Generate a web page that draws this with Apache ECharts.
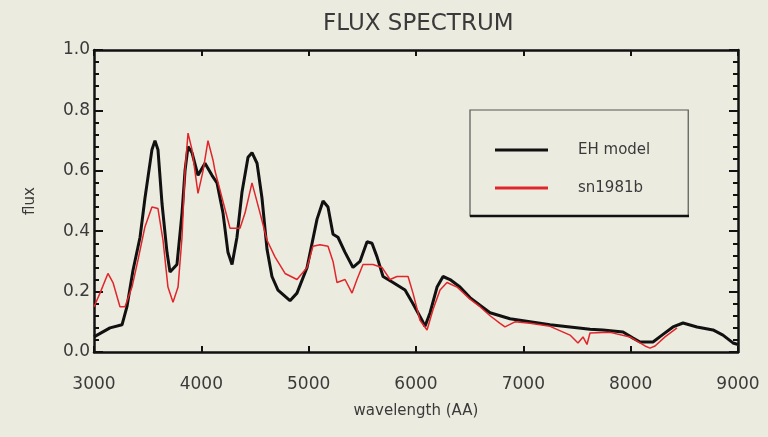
<!DOCTYPE html>
<html>
<head>
<meta charset="utf-8">
<script src="https://cdn.jsdelivr.net/npm/echarts@6/dist/echarts.min.js"></script>
<style>
html,body{margin:0;padding:0;background:#ecebe0;}
#chart{width:768px;height:437px;}
</style>
</head>
<body>
<div id="chart"></div>
<script>
var titleText = "FLUX SPECTRUM";
var xName = "wavelength (AA)";
var yName = "flux";
var seriesNames = ["EH model", "sn1981b"];

var ehWave = [3000,3149,3261,3307,3363,3429,3475,3540,3568,3596,3634,3680,3708,3773,3820,3848,3876,3913,3969,4034,4099,4146,4202,4248,4286,4332,4379,4435,4472,4519,4565,4612,4658,4714,4826,4891,4985,5078,5134,5180,5227,5273,5339,5413,5478,5544,5590,5637,5693,5786,5898,5972,6056,6084,6131,6196,6252,6317,6410,6503,6596,6690,6876,7062,7249,7435,7621,7742,7929,8022,8087,8208,8292,8394,8488,8618,8767,8860,8953,9000];
var ehFlux = [0.05,0.08,0.09,0.15,0.27,0.38,0.51,0.67,0.70,0.67,0.49,0.33,0.265,0.29,0.46,0.60,0.68,0.66,0.585,0.625,0.585,0.56,0.46,0.33,0.29,0.38,0.53,0.645,0.66,0.625,0.51,0.34,0.25,0.205,0.17,0.195,0.28,0.44,0.50,0.48,0.39,0.38,0.33,0.28,0.30,0.365,0.36,0.315,0.25,0.23,0.205,0.16,0.105,0.085,0.13,0.215,0.25,0.24,0.215,0.18,0.155,0.13,0.11,0.10,0.09,0.083,0.075,0.073,0.066,0.046,0.033,0.033,0.056,0.083,0.096,0.083,0.073,0.056,0.03,0.025];

var snWave = [3000,3056,3130,3177,3242,3289,3354,3410,3475,3540,3596,3643,3689,3736,3783,3820,3848,3876,3913,3969,4016,4062,4109,4127,4193,4267,4360,4407,4472,4547,4612,4686,4780,4891,4985,5040,5106,5180,5227,5264,5339,5404,5450,5506,5599,5683,5758,5823,5926,5972,6037,6103,6158,6224,6289,6382,6503,6596,6690,6783,6829,6922,7062,7249,7435,7509,7556,7593,7621,7808,7994,8134,8180,8227,8320,8432];
var snFlux = [0.15,0.195,0.26,0.23,0.15,0.15,0.215,0.305,0.415,0.48,0.475,0.37,0.215,0.165,0.215,0.38,0.60,0.725,0.67,0.525,0.60,0.70,0.635,0.60,0.51,0.41,0.41,0.46,0.56,0.46,0.37,0.315,0.26,0.24,0.28,0.35,0.355,0.35,0.30,0.23,0.24,0.195,0.24,0.29,0.29,0.28,0.24,0.25,0.25,0.195,0.105,0.073,0.14,0.205,0.23,0.215,0.175,0.15,0.12,0.095,0.083,0.10,0.095,0.085,0.056,0.03,0.05,0.025,0.063,0.065,0.05,0.02,0.013,0.02,0.05,0.08];

function zip(a, b) { return a.map(function (v, i) { return [v, b[i]]; }); }

var chart = echarts.init(document.getElementById('chart'), null, {renderer: 'canvas'});
var txt = '#3a3a3a';
var font = 'DejaVu Sans';
var axisLineStyle = {color: '#111', width: 2.5};

chart.setOption({
  backgroundColor: '#ecebe0',
  animation: false,
  title: {
    text: titleText, left: 318, top: 8,
    textStyle: {fontFamily: 'DejaVu Sans', fontSize: 23, fontWeight: 'normal', color: '#3a3a3a'}
  },
  legend: {
    orient: 'vertical', left: 470, top: 110,
    padding: [30, 38, 18, 25],
    itemWidth: 53, itemHeight: 3, itemGap: 18,
    icon: 'rect',
    borderColor: '#555', borderWidth: 1.2,
    textStyle: {fontFamily: font, fontSize: 15, color: txt, padding: [0, 0, 0, 25], lineHeight: 20},
    data: seriesNames
  },
  graphic: [{
    type: 'line', shape: {x1: 470, y1: 216, x2: 689, y2: 216},
    style: {stroke: '#111', lineWidth: 2.5}, z: 100
  }],
  grid: {left: 94, right: 30, top: 50, bottom: 85},
  xAxis: [{
    type: 'value', min: 3000, max: 9000, interval: 1000, position: 'bottom',
    name: xName, nameLocation: 'middle', nameGap: 52,
    nameTextStyle: {fontFamily: font, fontSize: 15, color: txt},
    axisLine: {show: true, onZero: false, lineStyle: axisLineStyle},
    axisTick: {show: true, inside: true, length: 6, lineStyle: {color: '#111', width: 2}},
    axisLabel: {fontFamily: font, fontSize: 17, color: txt, margin: 24, formatter: function (v) { return String(v); }},
    splitLine: {show: false}
  }, {
    type: 'value', min: 3000, max: 9000, interval: 1000, position: 'top',
    axisLine: {show: true, onZero: false, lineStyle: axisLineStyle},
    axisTick: {show: true, inside: true, length: 6, lineStyle: {color: '#111', width: 2}},
    axisLabel: {show: false}, splitLine: {show: false}
  }],
  yAxis: [{
    type: 'value', min: 0, max: 1, interval: 0.2, position: 'left',
    name: yName, nameLocation: 'middle', nameGap: 56, nameRotate: 90,
    nameTextStyle: {fontFamily: font, fontSize: 15, color: txt},
    axisLine: {show: true, onZero: false, lineStyle: axisLineStyle},
    axisTick: {show: true, inside: true, length: 9, lineStyle: {color: '#111', width: 2}},
    minorTick: {show: true, splitNumber: 5, length: 5, lineStyle: {color: '#111', width: 2}},
    axisLabel: {fontFamily: font, fontSize: 17, color: txt, margin: 4, formatter: function (v) { return v.toFixed(1); }},
    splitLine: {show: false}
  }, {
    type: 'value', min: 0, max: 1, interval: 0.2, position: 'right',
    axisLine: {show: true, onZero: false, lineStyle: axisLineStyle},
    axisTick: {show: true, inside: true, length: 9, lineStyle: {color: '#111', width: 2}},
    minorTick: {show: true, splitNumber: 5, length: 5, lineStyle: {color: '#111', width: 2}},
    axisLabel: {show: false}, splitLine: {show: false}
  }],
  series: [{
    name: seriesNames[0], type: 'line', data: zip(ehWave, ehFlux),
    showSymbol: false, symbol: 'none', color: '#111',
    lineStyle: {color: '#111', width: 3}, z: 2
  }, {
    name: seriesNames[1], type: 'line', data: zip(snWave, snFlux),
    showSymbol: false, symbol: 'none', color: '#e0262a',
    lineStyle: {color: '#e0262a', width: 1.5}, z: 3
  }]
});
</script>
</body>
</html>
